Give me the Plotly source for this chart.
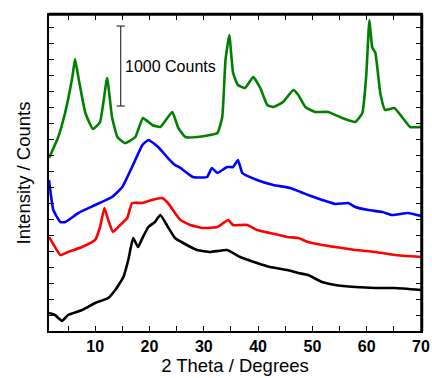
import plotly.graph_objects as go

# ---- data (2 Theta in degrees, intensity in counts) ----
green_x = [1.5, 3.2, 4.5, 5.8, 6.3, 6.9, 8.2, 9.6, 10.9, 12.2, 13.1, 14.1, 15.5, 17.4, 18.8, 20.5,
           22.0, 24.2, 25.3, 26.6, 28.8, 32.5, 33.4, 34.0, 34.7, 35.4, 36.3, 37.6, 39.1, 40.4, 41.7,
           42.8, 44.6, 46.5, 47.4, 48.7, 50.5, 52.9, 55.5, 57.9, 59.2, 59.9, 60.5, 61.0, 61.6, 62.5,
           63.4, 65.1, 66.5, 68.0, 70.0]
green_y = [2162, 2425, 2738, 3175, 3400, 3175, 2725, 2525, 2612, 3162, 2675, 2425, 2350, 2425, 2662, 2575,
           2550, 2738, 2538, 2425, 2425, 2475, 2675, 3388, 3700, 3225, 3075, 3038, 3175, 3038, 2825,
           2800, 2862, 3012, 2950, 2800, 2738, 2738, 2662, 2612, 2725, 3175, 3888, 3550, 3475, 2975,
           2762, 2788, 2675, 2550, 2550]

blue_x = [1.5, 2.3, 3.6, 4.5, 6.9, 10.0, 13.1, 15.0, 16.8, 18.7, 19.8, 21.6, 23.4, 24.7, 25.7, 28.0,
          30.6, 31.5, 32.5, 34.3, 35.4, 36.3, 37.1, 39.8, 42.8, 45.9, 47.8, 49.2, 51.8, 54.2, 56.6,
          57.9, 60.3, 62.9, 64.7, 67.6, 70.0]
blue_y = [1888, 1512, 1362, 1362, 1475, 1575, 1675, 1800, 2050, 2325, 2388, 2300, 2162, 2075, 2038, 1925,
          1925, 2038, 1975, 2050, 2050, 2138, 1975, 1888, 1825, 1788, 1738, 1700, 1638, 1588, 1600,
          1550, 1512, 1488, 1450, 1475, 1438]

red_x = [1.5, 2.6, 3.6, 5.0, 7.6, 10.0, 10.9, 11.7, 12.4, 13.3, 14.6, 15.9, 16.8, 18.7, 20.5, 22.3,
         23.4, 24.7, 25.7, 27.5, 29.9, 32.5, 34.5, 35.4, 38.0, 39.8, 42.2, 45.4, 47.4, 49.2, 51.8,
         54.2, 57.9, 61.6, 65.2, 70.0]
red_y = [1175, 1050, 950, 988, 1050, 1138, 1300, 1538, 1388, 1238, 1325, 1412, 1600, 1600, 1638, 1662,
         1600, 1475, 1388, 1325, 1288, 1300, 1388, 1325, 1325, 1262, 1225, 1175, 1162, 1112, 1075,
         1050, 1012, 988, 950, 925]

black_x = [1.5, 2.6, 3.9, 5.0, 7.6, 10.0, 12.4, 13.7, 15.2, 16.1, 17.0, 17.9, 18.7, 19.8, 21.0, 22.0,
           23.4, 24.7, 26.2, 28.8, 31.2, 34.3, 36.7, 39.8, 42.2, 45.4, 47.4, 49.2, 51.8, 54.2, 57.9,
           61.6, 65.2, 70.0]
black_y = [225, 200, 125, 200, 262, 350, 412, 512, 675, 888, 1162, 1050, 1162, 1300, 1362, 1450,
           1300, 1162, 1100, 1012, 988, 1012, 925, 850, 800, 762, 725, 700, 612, 575, 550,
           538, 538, 512]

series = [
    ("black", black_x, black_y),
    ("red", red_x, red_y),
    ("blue", blue_x, blue_y),
    ("green", green_x, green_y),
]
line_colors = {"black": "#000000", "red": "#ff0000", "blue": "#0000ff", "green": "#008000"}

x_range = [1.5, 70]
y_range = [0, 3950]
x_ticks = [10, 20, 30, 40, 50, 60, 70]

# scale bar (1000 counts)
bar_x = 14.7
bar_bottom = 2812
bar_len = 1000
bar_cap = 0.75
bar_label = "1000 Counts"

fig = go.Figure()
for name, xs, ys in series:
    fig.add_trace(go.Scatter(x=xs, y=ys, mode="lines", name=name,
                             line=dict(color=line_colors[name], width=2.6, shape="spline",
                                       smoothing=0.4)))

fig.add_shape(type="line", x0=bar_x, x1=bar_x, y0=bar_bottom, y1=bar_bottom + bar_len,
              line=dict(color="#333333", width=1.2))
for yy in (bar_bottom, bar_bottom + bar_len):
    fig.add_shape(type="line", x0=bar_x - bar_cap, x1=bar_x + bar_cap, y0=yy, y1=yy,
                  line=dict(color="#333333", width=1.2))
fig.add_annotation(x=bar_x + 0.4, y=bar_bottom + bar_len * 0.5, text=bar_label, showarrow=False,
                   xanchor="left", yanchor="middle",
                   font=dict(family="Liberation Sans, Arial", size=16, color="#000000"))

# plot frame (top and right edges drawn explicitly)
fig.add_shape(type="line", xref="paper", yref="paper", x0=0, x1=1.003, y0=1.002, y1=1.002,
              line=dict(color="black", width=3), layer="above")
fig.add_shape(type="line", xref="paper", yref="paper", x0=1.002, x1=1.002, y0=0, y1=1.002,
              line=dict(color="black", width=3), layer="above")

axis_font = dict(family="Liberation Sans, Arial", size=18.5, color="#000000")
fig.update_layout(
    width=432, height=378,
    margin=dict(l=49, r=11, t=15, b=47, autoexpand=False),
    paper_bgcolor="white", plot_bgcolor="white",
    showlegend=False,
    xaxis=dict(range=x_range, tickvals=x_ticks, ticks="inside", ticklen=5, tickwidth=1,
               tickcolor="black", showline=True, linecolor="black", linewidth=1.5, mirror="allticks",
               showgrid=False, zeroline=False, automargin=False,
               tickfont=dict(family="Liberation Sans, Arial", size=16, color="#000000", weight="bold"),
               minor=dict(dtick=5, tick0=0, ticks="inside", ticklen=5, tickcolor="black", showgrid=False),
               title=dict(text="2 Theta / Degrees", font=axis_font, standoff=5)),
    yaxis=dict(range=y_range, dtick=200, tick0=0, ticks="inside", ticklen=5, tickwidth=1,
               tickcolor="black", showticklabels=False, showline=True, linecolor="black",
               linewidth=1.5, mirror="allticks", showgrid=False, zeroline=False, automargin=False,
               title=dict(text="Intensity / Counts", font=axis_font, standoff=12)),
)

fig.write_html("out.html", config={"displayModeBar": False},
               post_script="document.body.style.margin='0px';document.body.style.padding='0px';")
